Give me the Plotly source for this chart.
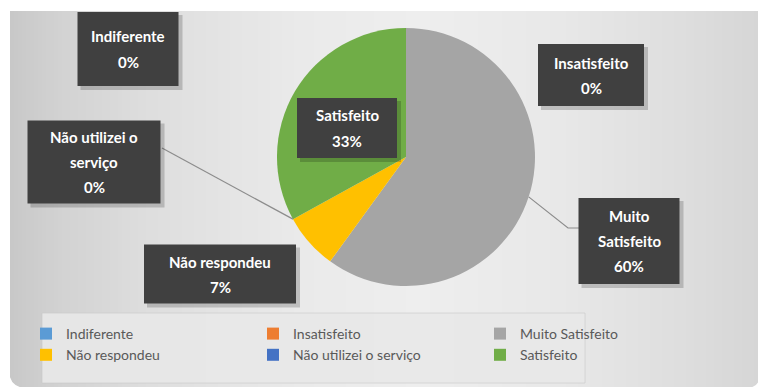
import math
import plotly.graph_objects as go

W, H = 758, 387

# Survey answers and their shares (%)
categories = ["Indiferente", "Insatisfeito", "Muito Satisfeito",
              "Não respondeu", "Não utilizei o serviço", "Satisfeito"]
shares = [0, 0, 60, 7, 0, 33]
colors = ["#5B9BD5", "#ED7D31", "#A5A5A5", "#FFC000", "#4472C4", "#70AD47"]

# Multi-line text shown in each data-label box
label_lines = {
    "Indiferente": ["Indiferente"],
    "Insatisfeito": ["Insatisfeito"],
    "Muito Satisfeito": ["Muito", "Satisfeito"],
    "Não respondeu": ["Não respondeu"],
    "Não utilizei o serviço": ["Não utilizei o", "serviço"],
    "Satisfeito": ["Satisfeito"],
}

# Label box placement (centre x, centre y, width, height) in pixels
label_boxes = {
    "Indiferente": (128, 49, 101, 74),
    "Insatisfeito": (591, 75, 106, 62),
    "Muito Satisfeito": (629, 241, 101, 86),
    "Não respondeu": (220, 274, 152, 59),
    "Não utilizei o serviço": (94, 162, 133, 83),
    "Satisfeito": (347, 128, 100, 60),
}
# Which labels get a leader line, and the point on the box where it ends
leaders = {
    "Não utilizei o serviço": [(162, 148)],
    "Muito Satisfeito": [(568, 228), (579, 228)],
}

# Pie geometry (pixels)
CX, CY, R = 406, 157, 129


def px(x):
    return x / W


def py(y):
    return 1 - y / H


shapes = []
annotations = []

# Gradient panel behind the chart
stops = [(10, 200), (60, 210), (150, 222), (300, 234), (420, 238),
         (560, 232), (680, 222), (758, 214)]


def shade(x):
    for (x0, c0), (x1, c1) in zip(stops, stops[1:]):
        if x0 <= x <= x1:
            t = (x - x0) / (x1 - x0)
            return int(round(c0 + (c1 - c0) * t))
    return stops[-1][1]


step = 4
for x in range(10, W + step, step):
    c = shade(min(x + step / 2, W))
    shapes.append(dict(type="rect", xref="paper", yref="paper",
                       x0=px(x), x1=px(x + step + 1), y0=py(H + 2), y1=py(11),
                       line=dict(width=0), fillcolor=f"rgb({c},{c},{c})",
                       layer="below"))
# white margin above and left of the panel
shapes.append(dict(type="rect", xref="paper", yref="paper",
                   x0=px(-2), x1=px(W + 2), y0=py(11), y1=py(-2),
                   line=dict(width=0), fillcolor="white", layer="below"))
shapes.append(dict(type="rect", xref="paper", yref="paper",
                   x0=px(-2), x1=px(10), y0=py(H + 2), y1=py(-2),
                   line=dict(width=0), fillcolor="white", layer="below"))
# rounded lower corners of the panel
shapes.append(dict(type="path", xref="paper", yref="paper",
                   path=f"M {px(9)},{py(372)} L {px(9)},{py(388)} L {px(24)},{py(388)} "
                        f"Q {px(10)},{py(386)} {px(9)},{py(372)} Z",
                   line=dict(width=0), fillcolor="white", layer="below"))
shapes.append(dict(type="path", xref="paper", yref="paper",
                   path=f"M {px(759)},{py(380)} L {px(759)},{py(388)} L {px(748)},{py(388)} "
                        f"Q {px(757)},{py(387)} {px(759)},{py(380)} Z",
                   line=dict(width=0), fillcolor="white", layer="below"))

# Legend panel
shapes.append(dict(type="rect", xref="paper", yref="paper",
                   x0=px(42), x1=px(585), y0=py(383), y1=py(313),
                   line=dict(color="rgba(200,200,200,0.6)", width=1),
                   fillcolor="rgba(232,232,232,0.9)", layer="below"))

# Slice angles (clockwise from 12 o'clock) from the data
total = sum(shares)
cum = 0
mid_angle = {}
for cat, v in zip(categories, shares):
    start = cum / total * 360
    cum += v
    end = cum / total * 360
    mid_angle[cat] = (start + end) / 2

# Leader lines
for cat, pts in leaders.items():
    a = math.radians(mid_angle[cat])
    ex = CX + R * math.sin(a)
    ey = CY - R * math.cos(a)
    path_pts = [(ex, ey)] + pts
    path = "M " + " L ".join(f"{px(x)},{py(y)}" for x, y in path_pts)
    shapes.append(dict(type="path", xref="paper", yref="paper", path=path,
                       line=dict(color="#8c8c8c", width=1.2), layer="above"))

# Label boxes with shadow and text
for cat, v in zip(categories, shares):
    cx, cy, w, h = label_boxes[cat]
    shapes.append(dict(type="rect", xref="paper", yref="paper",
                       x0=px(cx - w / 2 + 3), x1=px(cx + w / 2 + 4),
                       y0=py(cy + h / 2 + 4), y1=py(cy - h / 2 + 3),
                       line=dict(width=0), fillcolor="rgba(0,0,0,0.18)",
                       layer="above"))
    shapes.append(dict(type="rect", xref="paper", yref="paper",
                       x0=px(cx - w / 2), x1=px(cx + w / 2),
                       y0=py(cy + h / 2), y1=py(cy - h / 2),
                       line=dict(width=0), fillcolor="#404040", layer="above"))
    lines = label_lines[cat] + [f"{round(v / total * 100)}%"]
    n = len(lines)
    for i, t in enumerate(lines):
        ty = cy + (i - (n - 1) / 2) * 25
        annotations.append(dict(xref="paper", yref="paper", x=px(cx), y=py(ty),
                                text=f"<b>{t}</b>", showarrow=False,
                                xanchor="center", yanchor="middle",
                                font=dict(family="Lato, Open Sans, sans-serif",
                                          size=15, color="white")))

fig = go.Figure(go.Pie(
    labels=categories,
    values=shares,
    sort=False,
    direction="clockwise",
    rotation=0,
    marker=dict(colors=colors, line=dict(width=0)),
    textinfo="none",
    hoverinfo="label+percent",
    domain=dict(x=[px(CX - R), px(CX + R)], y=[py(CY + R), py(CY - R)]),
))

fig.update_layout(
    width=W, height=H,
    margin=dict(l=0, r=0, t=0, b=0),
    paper_bgcolor="rgb(214,214,214)",
    plot_bgcolor="rgba(0,0,0,0)",
    shapes=shapes,
    annotations=annotations,
    showlegend=True,
    legend=dict(orientation="h", x=px(26), y=py(318), xanchor="left",
                yanchor="top", entrywidth=182, entrywidthmode="pixels",
                bgcolor="rgba(0,0,0,0)", itemclick=False,
                font=dict(family="Lato, Open Sans, sans-serif", size=14,
                          color="#595959"),
                tracegroupgap=0),
)

# keep the page edge-to-edge with no scrollbars
page_js = ("document.documentElement.style.overflow='hidden';"
           "document.body.style.margin='0';"
           "document.body.style.overflow='hidden';")

fig.write_html("out.html", post_script=page_js)
